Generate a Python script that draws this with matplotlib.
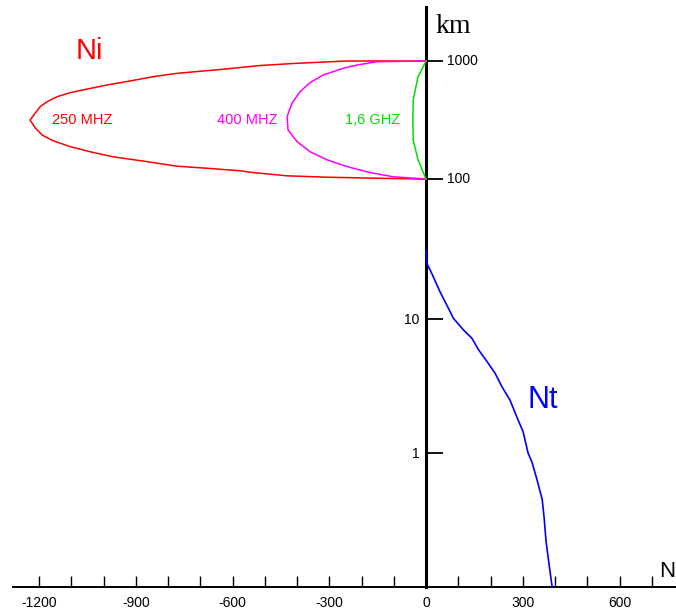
import numpy as np
import matplotlib
matplotlib.use("Agg")
import matplotlib.pyplot as plt
from matplotlib.ticker import NullLocator

# Ni curves (refractivity of the ionosphere) for three frequencies
ni250_n = [0, -245, -400, -515, -639, -772, -847, -918, -989, -1051, -1104, -1144,
           -1175, -1197, -1212, -1228, -1212, -1191, -1157, -1104, -1042, -971, -865,
           -772, -679, -577, -536, -431, -298, -143, -50, 0]
ni250_km = [1000, 1000, 957, 916, 847, 787, 736, 678, 627, 579, 540, 499,
            453, 411, 363, 317, 272, 237, 212, 189, 171, 155, 141,
            129, 124, 118, 114, 107, 104, 102, 101, 100]

ni400_n = [0, -152, -214, -257, -319, -360, -391, -416, -431, -428, -400, -360,
           -307, -245, -174, -102, -9, 0]
ni400_km = [1000, 986, 925, 867, 762, 656, 550, 439, 338, 261, 208, 171,
            146, 128, 114, 105, 101, 100]

ni1600_n = [0, -25, -40, -41, -40, -25, 0]
ni1600_km = [1000, 736, 468, 317, 215, 146, 100]

# Nt curve (troposphere)
nt_n = [0, 2, 18, 43, 64, 85, 116, 142, 163, 189, 214, 235, 260, 281,
        301, 316, 329, 344, 360, 366, 372, 378, 391]
nt_km = [31.2, 25.1, 21.1, 15.7, 12.6, 10.1, 8.28, 7.18, 5.87, 4.80, 3.93, 3.12, 2.48, 1.86,
         1.43, 1.0, 0.84, 0.63, 0.45, 0.33, 0.22, 0.17, 0.1]

x_ticks = list(range(-1200, 800, 100))
x_labeled = [-1200, -900, -600, -300, 0, 300, 600]
y_ticks = [1, 10, 100, 1000]

# the original drawing has uneven decades, so use a piecewise log scale
LOG_KNOTS = [-1, 0, 1, 2, 3, 4]
PIX_KNOTS = [0, 134.6, 268.3, 408, 526.3, 644.6]


def fwd(y):
    y = np.asarray(y, dtype=float)
    return np.interp(np.log10(np.clip(y, 1e-6, None)), LOG_KNOTS, PIX_KNOTS)


def inv(v):
    return 10 ** np.interp(v, PIX_KNOTS, LOG_KNOTS)


SANS = "Liberation Sans"

fig = plt.figure(figsize=(6.76, 6.16), dpi=100)
ax = fig.add_axes([13 / 676, (616 - 587.3) / 616, 663 / 676, 580.3 / 616])
ax.set_yscale("function", functions=(fwd, inv))
ax.set_xlim(-1281, 775)
ax.set_ylim(0.1, inv(580.3))

ax.plot(ni250_n, ni250_km, color="#ff0000", lw=1.1, zorder=3, clip_on=False)
ax.plot(ni400_n, ni400_km, color="#ff00ff", lw=1.1, zorder=3, clip_on=False)
ax.plot(ni1600_n, ni1600_km, color="#00e000", lw=1.1, zorder=3, clip_on=False)
ax.plot(nt_n, nt_km, color="#0000ff", lw=1.2, zorder=3, clip_on=False)

# axes: bottom line plus vertical line through 0
for s in ["top", "right"]:
    ax.spines[s].set_visible(False)
ax.spines["left"].set_position(("data", 0))
ax.spines["left"].set_linewidth(2.2)
ax.spines["bottom"].set_linewidth(1.4)

labels = [str(t) if t in x_labeled else "" for t in x_ticks]
ax.set_xticks(x_ticks, labels)
ax.tick_params(axis="x", direction="in", length=8, width=1.0, pad=6,
               labelsize=10, labelfontfamily=SANS)

ax.set_yticks(y_ticks, ["1", "10", "", ""])
ax.yaxis.set_minor_locator(NullLocator())
ax.tick_params(axis="y", direction="in", length=12, width=1.3, pad=5,
               labelsize=10, labelfontfamily=SANS)
for v in [100, 1000]:
    ax.annotate(str(v), xy=(0, v), xytext=(15, 0), textcoords="offset points",
                va="center", ha="left", fontsize=10, family=SANS)

# frequency labels
ax.text(-1066, 316, "250 MHZ", color="#ff0000", fontsize=10.5, family=SANS,
        ha="center", va="center")
ax.text(-553, 316, "400 MHZ", color="#ff00ff", fontsize=10.5, family=SANS,
        ha="center", va="center")
ax.text(-167, 316, "1,6 GHZ", color="#00e000", fontsize=10.5, family=SANS,
        ha="center", va="center")

ax.text(-1045, 1215, "Ni", color="#ff0000", fontsize=21, family=SANS,
        ha="center", va="center")
ax.text(363, 2.48, "Nt", color="#0000ff", fontsize=22, family=SANS,
        ha="center", va="center")
ax.text(28, 1725, "km", fontsize=20, family="Liberation Serif",
        ha="left", va="baseline")
ax.text(722, 0.119, "N", fontsize=16, family=SANS, ha="left", va="baseline")

fig.savefig("out.png", dpi=100)
plt.close(fig)
